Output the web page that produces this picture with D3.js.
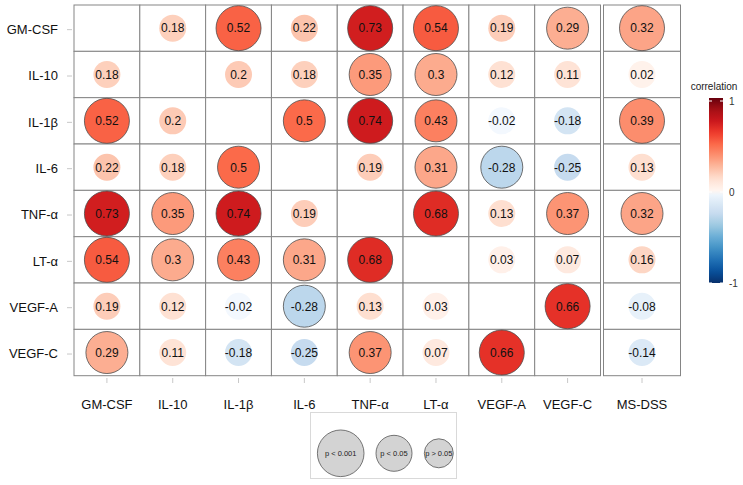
<!DOCTYPE html>
<html>
<head>
<meta charset="utf-8">
<script src="https://cdn.jsdelivr.net/npm/d3@7"></script>
<style>
  body { margin: 0; background: #fff; }
  text { font-family: "Liberation Sans", Arial, sans-serif; }
</style>
</head>
<body>
<div id="chart"></div>
<script>
// cytokines (rows and first 8 columns), plus the clinical score column
var markers = ["GM-CSF", "IL-10", "IL-1β", "IL-6", "TNF-α", "LT-α", "VEGF-A", "VEGF-C"];
var extraCol = ["MS-DSS"];

// correlation values, row by row (null = diagonal)
var corr = [
    [null, 0.18, 0.52, 0.22, 0.73, 0.54, 0.19, 0.29, 0.32],
    [0.18, null, 0.2, 0.18, 0.35, 0.3, 0.12, 0.11, 0.02],
    [0.52, 0.2, null, 0.5, 0.74, 0.43, -0.02, -0.18, 0.39],
    [0.22, 0.18, 0.5, null, 0.19, 0.31, -0.28, -0.25, 0.13],
    [0.73, 0.35, 0.74, 0.19, null, 0.68, 0.13, 0.37, 0.32],
    [0.54, 0.3, 0.43, 0.31, 0.68, null, 0.03, 0.07, 0.16],
    [0.19, 0.12, -0.02, -0.28, 0.13, 0.03, null, 0.66, -0.08],
    [0.29, 0.11, -0.18, -0.25, 0.37, 0.07, 0.66, null, -0.14]
];

// significance class: 3 = p < 0.001, 2 = p < 0.05, 1 = p > 0.05
var sig = [
    [null, 1, 3, 1, 3, 3, 1, 2, 3],
    [1, null, 1, 1, 2, 2, 1, 1, 1],
    [3, 1, null, 2, 3, 2, 1, 1, 3],
    [1, 1, 2, null, 1, 2, 2, 1, 1],
    [3, 2, 3, 1, null, 3, 1, 2, 2],
    [3, 2, 2, 2, 3, null, 1, 1, 1],
    [1, 1, 1, 2, 1, 1, null, 3, 1],
    [2, 1, 1, 1, 2, 1, 3, null, 1]
];

var sigLevels = [3, 2, 1];
var sigLabels = ["p < 0.001", "p < 0.05", "p > 0.05"];
var legendTicks = [1, 0, -1];

var svgWidth = 743;
var svgHeight = 485;

var svg = d3.select("#chart")
    .append("svg")
    .attr("width", svgWidth)
    .attr("height", svgHeight);

// scales
var xScale = d3.scaleBand().domain(markers).range([74, 600.5]);
var xExtra = d3.scaleBand().domain(extraCol).range([603.5, 680.5]);
var yScale = d3.scaleBand().domain(markers).range([5, 375.7]);

var reds = d3.scaleLinear().domain(d3.range(9).map(i => i / 8)).range(d3.schemeReds[9]);
var blues = d3.scaleLinear().domain(d3.range(9).map(i => i / 8)).range(d3.schemeBlues[9]);
function colorOf(v) { return v >= 0 ? reds(v) : blues(-v); }

var rScale = d3.scaleOrdinal().domain([3, 2, 1]).range([22.5, 21, 13.5]);
var rLegend = d3.scaleOrdinal().domain([3, 2, 1]).range([23.3, 18, 14.5]);

// flatten into cells
var cells = [];
markers.forEach(function (rowName, i) {
    corr[i].forEach(function (v, j) {
        var extra = j >= markers.length;
        var colName = extra ? extraCol[j - markers.length] : markers[j];
        var sc = extra ? xExtra : xScale;
        cells.push({
            row: rowName, col: colName, value: v, sig: sig[i][j],
            x: sc(colName), w: sc.bandwidth()
        });
    });
});

var cellGroup = svg.append("g");

cellGroup.selectAll("rect.cell")
    .data(cells)
    .enter()
    .append("rect")
    .attr("class", "cell")
    .attr("x", d => d.x)
    .attr("y", d => yScale(d.row))
    .attr("width", d => d.w)
    .attr("height", yScale.bandwidth())
    .attr("fill", "#fff")
    .attr("stroke", "#858585")
    .attr("stroke-width", 1);

var filled = cells.filter(d => d.value !== null);

cellGroup.selectAll("circle")
    .data(filled)
    .enter()
    .append("circle")
    .attr("cx", d => d.x + d.w / 2)
    .attr("cy", d => yScale(d.row) + yScale.bandwidth() / 2)
    .attr("r", d => rScale(d.sig))
    .attr("fill", d => colorOf(d.value))
    .attr("stroke", d => d.sig > 1 ? "#4d4d4d" : "none")
    .attr("stroke-width", 0.8);

cellGroup.selectAll("text.val")
    .data(filled)
    .enter()
    .append("text")
    .attr("class", "val")
    .attr("x", d => d.x + d.w / 2)
    .attr("y", d => yScale(d.row) + yScale.bandwidth() / 2)
    .attr("dy", "0.36em")
    .attr("text-anchor", "middle")
    .attr("font-size", "12px")
    .attr("fill", "#111")
    .text(d => String(d.value));

// axes
function styleAxis(g) {
    g.select(".domain").remove();
    g.selectAll(".tick line").attr("stroke", "#c8c8c8");
    g.selectAll(".tick text")
        .attr("font-size", "13px")
        .attr("font-family", "'Liberation Sans', Arial, sans-serif")
        .attr("fill", "#111");
}

svg.append("g")
    .attr("transform", "translate(72, 1.5)")
    .call(d3.axisLeft(yScale).tickSize(5).tickPadding(9))
    .call(styleAxis);

svg.append("g")
    .attr("transform", "translate(0, 378)")
    .call(d3.axisBottom(xScale).tickSize(5).tickPadding(17))
    .call(styleAxis);

svg.append("g")
    .attr("transform", "translate(0, 378)")
    .call(d3.axisBottom(xExtra).tickSize(5).tickPadding(17))
    .call(styleAxis);

// colour bar legend
var legendY = d3.scaleLinear().domain([-1, 1]).range([283, 101]);

var grad = svg.append("defs").append("linearGradient")
    .attr("id", "corrGrad")
    .attr("x1", 0).attr("y1", 1).attr("x2", 0).attr("y2", 0);

d3.range(-1, 1.0001, 0.05).forEach(function (v) {
    grad.append("stop")
        .attr("offset", (v + 1) / 2)
        .attr("stop-color", colorOf(v));
});

svg.append("text")
    .attr("x", 714)
    .attr("y", 90)
    .attr("text-anchor", "middle")
    .attr("font-size", "10px")
    .attr("fill", "#222")
    .text("correlation");

svg.append("rect")
    .attr("x", 709)
    .attr("y", 98)
    .attr("width", 14)
    .attr("height", 185)
    .attr("fill", "url(#corrGrad)");

var barTicks = svg.append("g").selectAll("g")
    .data(legendTicks)
    .enter()
    .append("g");

barTicks.append("line")
    .attr("x1", 709).attr("x2", 712)
    .attr("y1", d => legendY(d)).attr("y2", d => legendY(d))
    .attr("stroke", "#fff");

barTicks.append("line")
    .attr("x1", 720).attr("x2", 723)
    .attr("y1", d => legendY(d)).attr("y2", d => legendY(d))
    .attr("stroke", "#fff");

barTicks.append("text")
    .attr("x", 729)
    .attr("y", d => legendY(d))
    .attr("dy", "0.36em")
    .attr("font-size", "10px")
    .attr("fill", "#333")
    .text(d => d);

// significance size legend
var sizeX = d3.scaleOrdinal().domain(sigLevels).range([340.7, 394, 438.8]);

svg.append("rect")
    .attr("x", 310.5)
    .attr("y", 412.5)
    .attr("width", 146)
    .attr("height", 66)
    .attr("fill", "#fff")
    .attr("stroke", "#d9d9d9");

var sizeItems = svg.append("g").selectAll("g")
    .data(sigLevels)
    .enter()
    .append("g")
    .attr("transform", d => `translate(${sizeX(d)}, 453.3)`);

sizeItems.append("circle")
    .attr("r", d => rLegend(d))
    .attr("fill", "#d3d3d3")
    .attr("stroke", "#555")
    .attr("stroke-width", 0.8);

sizeItems.append("text")
    .attr("text-anchor", "middle")
    .attr("dy", "0.36em")
    .attr("font-size", "7.5px")
    .attr("fill", "#222")
    .text((d, i) => sigLabels[i]);
</script>
</body>
</html>
